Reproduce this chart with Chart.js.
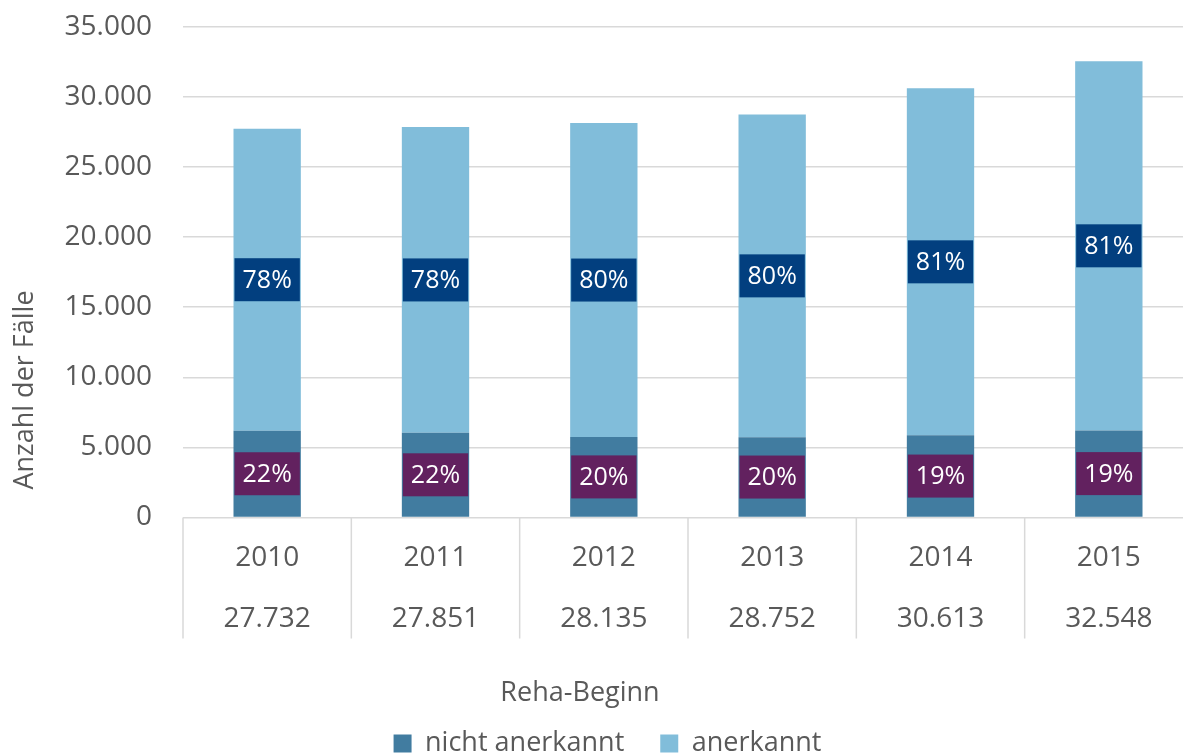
<!DOCTYPE html>
<html lang="de">
<head>
<meta charset="UTF-8">
<title>Reha-Beginn</title>
<script src="https://cdn.jsdelivr.net/npm/chart.js"></script>
<style>
  html, body { margin: 0; padding: 0; background: #fff; overflow: hidden; }
  /* canvas a bit larger than the window: plot runs off the right edge, legend off the bottom */
  .chart-box { width: 1195px; height: 788px; margin-top: -21px; }
</style>
</head>
<body>
<div class="chart-box"><canvas id="rehaChart"></canvas></div>
<script>
const years = ['2010', '2011', '2012', '2013', '2014', '2015'];
const totals = [27732, 27851, 28135, 28752, 30613, 32548];
const nichtAnerkannt = [6190, 6040, 5740, 5720, 5860, 6210];
const anerkannt = [21542, 21811, 22395, 23032, 24753, 26338];
const pctNicht = ['22%', '22%', '20%', '20%', '19%', '19%'];
const pctAnerkannt = ['78%', '78%', '80%', '80%', '81%', '81%'];
const yTicks = [0, 5000, 10000, 15000, 20000, 25000, 30000, 35000];

const grey = '#595959';
const lineGrey = '#d9d9d9';
const fontFamily = '"Open Sans", sans-serif';
const fmt = v => v.toLocaleString('de-DE');

// percent boxes in the middle of each segment
const boxLabels = {
  id: 'boxLabels',
  afterDatasetsDraw(chart) {
    const ctx = chart.ctx;
    const sets = [
      { idx: 0, texts: pctNicht, bg: '#62215f' },
      { idx: 1, texts: pctAnerkannt, bg: '#023f7f' }
    ];
    ctx.save();
    ctx.font = '25px ' + fontFamily;
    ctx.textAlign = 'center';
    ctx.textBaseline = 'middle';
    sets.forEach(s => {
      chart.getDatasetMeta(s.idx).data.forEach((bar, i) => {
        const cy = (bar.y + bar.base) / 2;
        const w = bar.width - 2;
        const h = 43;
        ctx.fillStyle = s.bg;
        ctx.fillRect(bar.x - w / 2, cy - h / 2, w, h);
        ctx.fillStyle = '#ffffff';
        ctx.fillText(s.texts[i], bar.x, cy + 1);
      });
    });
    ctx.restore();
  }
};

// category separators under the plot + off-centre axis titles
const axisExtras = {
  id: 'axisExtras',
  afterDraw(chart) {
    const ctx = chart.ctx;
    const xs = chart.scales.x;
    const area = chart.chartArea;
    const step = xs.getPixelForValue(1) - xs.getPixelForValue(0);
    ctx.save();
    ctx.strokeStyle = lineGrey;
    ctx.lineWidth = 1.5;
    for (let i = 0; i <= years.length; i++) {
      const x = xs.getPixelForValue(i) - step / 2;
      ctx.beginPath();
      ctx.moveTo(x, area.bottom);
      ctx.lineTo(x, area.bottom + 121);
      ctx.stroke();
    }
    ctx.fillStyle = grey;
    ctx.font = '27px ' + fontFamily;
    ctx.textAlign = 'center';
    ctx.textBaseline = 'middle';
    ctx.fillText('Reha-Beginn', 580, 714);
    ctx.translate(25, 411);
    ctx.rotate(-Math.PI / 2);
    ctx.fillText('Anzahl der Fälle', 0, 0);
    ctx.restore();
  }
};

new Chart(document.getElementById('rehaChart'), {
  type: 'bar',
  data: {
    labels: years.map((y, i) => [y, fmt(totals[i])]),
    datasets: [
      {
        label: 'nicht anerkannt',
        data: nichtAnerkannt,
        backgroundColor: '#417ca0',
        barPercentage: 0.4,
        categoryPercentage: 1
      },
      {
        label: 'anerkannt',
        data: anerkannt,
        backgroundColor: '#81bdda',
        barPercentage: 0.4,
        categoryPercentage: 1
      }
    ]
  },
  options: {
    responsive: true,
    maintainAspectRatio: false,
    animation: false,
    layout: { padding: { left: 22, right: 2, top: 5, bottom: 0 } },
    plugins: {
      tooltip: { enabled: false },
      legend: {
        position: 'bottom',
        labels: {
          boxWidth: 18,
          boxHeight: 18,
          padding: 36,
          color: grey,
          font: { family: fontFamily, size: 27 }
        }
      }
    },
    scales: {
      x: {
        stacked: true,
        grid: { display: false },
        border: { display: false },
        ticks: {
          padding: 2,
          color: grey,
          font: { family: fontFamily, size: 28, lineHeight: 2.18 }
        },
        title: {
          display: true,
          text: 'Reha-Beginn',
          color: 'rgba(0,0,0,0)',
          font: { family: fontFamily, size: 27 },
          padding: { top: 2, bottom: 8 }
        }
      },
      y: {
        stacked: true,
        min: 0,
        max: 35000,
        afterBuildTicks: axis => { axis.ticks = yTicks.map(v => ({ value: v })); },
        afterFit: axis => { axis.width = 161; },
        grid: { color: lineGrey, lineWidth: 1.5, drawTicks: false },
        border: { display: false },
        ticks: {
          padding: 31,
          color: grey,
          font: { family: fontFamily, size: 28 },
          callback: v => fmt(v)
        }
      }
    }
  },
  plugins: [boxLabels, axisExtras]
});
</script>
</body>
</html>
